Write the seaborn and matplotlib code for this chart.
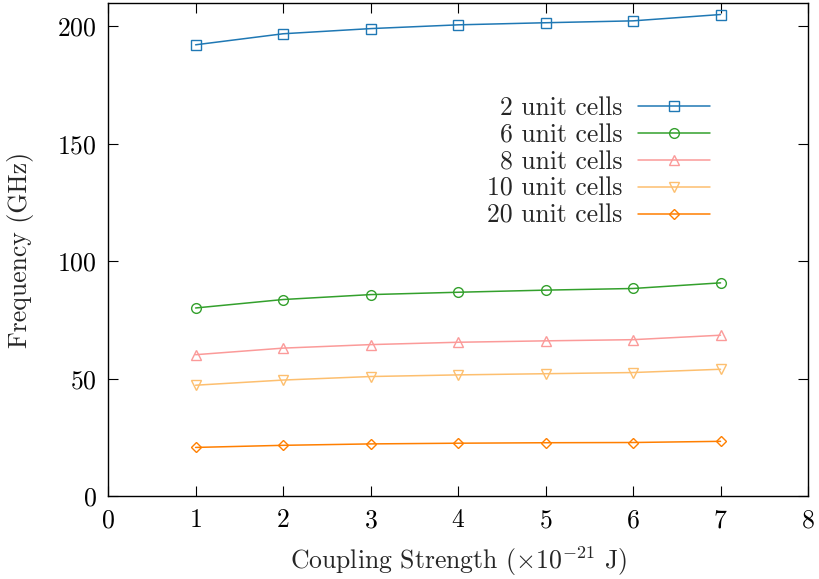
import pandas as pd
import seaborn as sns
import matplotlib.pyplot as plt

coupling = [1, 2, 3, 4, 5, 6, 7]
cells_2 = [192.2, 196.9, 199.1, 200.7, 201.6, 202.4, 205.1]
cells_6 = [80.1, 83.7, 85.8, 86.8, 87.7, 88.4, 90.8]
cells_8 = [60.2, 63.0, 64.5, 65.5, 66.1, 66.6, 68.5]
cells_10 = [47.2, 49.4, 50.9, 51.6, 52.1, 52.6, 54.0]
cells_20 = [20.7, 21.6, 22.2, 22.5, 22.7, 22.8, 23.3]

labels = ["2 unit cells", "6 unit cells", "8 unit cells", "10 unit cells", "20 unit cells"]
series = [cells_2, cells_6, cells_8, cells_10, cells_20]
colors = ["#1f78b4", "#33a02c", "#fb9a99", "#fdbf6f", "#ff7f00"]
markers = ["s", "o", "^", "v", "D"]

rows = []
for lab, vals in zip(labels, series):
    for x, y in zip(coupling, vals):
        rows.append({"Coupling": x, "Frequency": y, "Cells": lab})
data = pd.DataFrame(rows)

sns.set_style("ticks")
plt.rcParams["font.family"] = "serif"
plt.rcParams["font.serif"] = ["cmr10"]
plt.rcParams["mathtext.fontset"] = "cm"
plt.rcParams["axes.unicode_minus"] = False
plt.rcParams["axes.formatter.use_mathtext"] = True

fig, ax = plt.subplots(figsize=(8.19, 5.79), dpi=100)
fig.subplots_adjust(left=0.132, right=0.9866, top=0.9948, bottom=0.1433)

sns.lineplot(data=data, x="Coupling", y="Frequency", hue="Cells", style="Cells",
             hue_order=labels, style_order=labels,
             palette=dict(zip(labels, colors)), markers=dict(zip(labels, markers)),
             dashes=False, linewidth=1.1, markersize=7, legend=False, ax=ax)

sizes = [6.8, 7, 7, 7, 5.5]
for line, s in zip(ax.lines, sizes):
    line.set_markerfacecolor("none")
    line.set_markeredgecolor(line.get_color())
    line.set_markeredgewidth(1.0)
    line.set_markersize(s)

ax.legend(ax.lines, labels, loc="upper right", bbox_to_anchor=(0.86, 0.81),
          frameon=False, markerfirst=False, fontsize=18.5, handlelength=2.8,
          borderpad=0, borderaxespad=0, labelspacing=0.12, handletextpad=0.6,
          alignment="right")

ax.set_xlim(0, 8)
ax.set_ylim(0, 210)
ax.set_xticks(range(0, 9))
ax.set_yticks([0, 50, 100, 150, 200])
ax.tick_params(direction="in", length=7, width=0.8, top=True, right=True,
               labelsize=18.5, colors="black")
ax.tick_params(axis="x", pad=9)
ax.tick_params(axis="y", pad=8)
for sp in ax.spines.values():
    sp.set_linewidth(1.0)
    sp.set_color("black")

ax.set_xlabel(r"Coupling Strength ($\times10^{-21}$ J)", fontsize=18.5, labelpad=9)
ax.set_ylabel("Frequency (GHz)", fontsize=18.5, labelpad=17)

plt.savefig("out.png", dpi=100)
